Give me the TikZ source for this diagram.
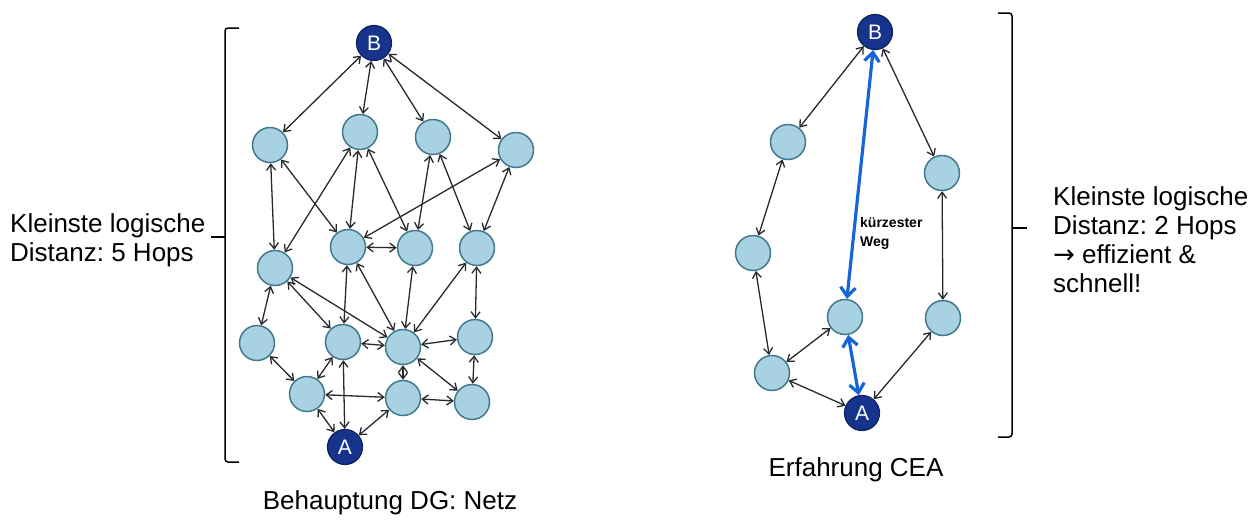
\documentclass[tikz,border=0pt]{standalone}
\usepackage{fontspec}
\setmainfont{Liberation Sans}
\newfontfamily\symfont{DejaVu Sans}
\usetikzlibrary{arrows.meta}
\frenchspacing
\definecolor{nodefill}{RGB}{168,210,225}
\definecolor{nodeline}{RGB}{66,120,142}
\definecolor{endfill}{RGB}{22,52,140}
\definecolor{endline}{RGB}{14,34,96}
\definecolor{edgecol}{RGB}{38,42,46}
\definecolor{pathblue}{RGB}{22,100,215}
\begin{document}
\begin{tikzpicture}[x=1pt,y=-1pt,
  hub/.style={circle, draw=nodeline, fill=nodefill, line width=1.5pt, minimum size=35pt, inner sep=0pt},
  endpt/.style={circle, draw=endline, fill=endfill, line width=1.2pt, minimum size=35pt, inner sep=0pt, text=white, font=\fontsize{21}{21}\selectfont},
  link/.style={draw=edgecol, line width=1.3pt, {Straight Barb[length=6pt,width=9pt]}-{Straight Barb[length=6pt,width=9pt]}},
  fast/.style={draw=pathblue, line width=3.2pt, {Straight Barb[length=9pt,width=15pt]}-{Straight Barb[length=9pt,width=15pt]}},
  bracket/.style={draw=black, line width=1.5pt, rounded corners=3pt},
  note/.style={font=\fontsize{26}{29}\selectfont, align=left, inner sep=0pt}
]
\useasboundingbox (0,0) rectangle (1259,528);

% ---------- left network ----------
\node[endpt] (LB) at (374,43) {B};
\node[hub] (L1) at (270,145) {};
\node[hub] (L2) at (360,132) {};
\node[hub] (L3) at (433,137) {};
\node[hub] (L4) at (516,150) {};
\node[hub] (L5) at (275,268) {};
\node[hub] (L6) at (348,247) {};
\node[hub] (L7) at (415,248) {};
\node[hub] (L8) at (477,248) {};
\node[hub] (L9) at (257,343) {};
\node[hub] (L10) at (343,342) {};
\node[hub] (L11) at (403,347) {};
\node[hub] (L12) at (475,337) {};
\node[hub] (L13) at (307,394) {};
\node[hub] (L14) at (403,398) {};
\node[hub] (L15) at (472,402) {};
\node[endpt] (LA) at (345,447) {A};

\foreach \a/\b in {LB/L1, LB/L2, LB/L3, LB/L4,
  L1/L5, L1/L6, L2/L5, L2/L6, L2/L7, L3/L7, L3/L8, L4/L6, L4/L8,
  L6/L7, L5/L9, L5/L10, L5/L11, L6/L10, L6/L11, L7/L11, L8/L11, L8/L12,
  L10/L11, L11/L12, L9/L13, L10/L13, L10/LA, L11/L14, L11/L15, L12/L15,
  L13/L14, L13/LA, L14/LA, L14/L15}
  \draw[link] (\a) -- (\b);

% ---------- right network ----------
\node[endpt] (RB) at (875,32) {B};
\node[hub] (R1) at (788,142) {};
\node[hub] (R2) at (942,173) {};
\node[hub] (R3) at (753,253) {};
\node[hub] (R4) at (772,373) {};
\node[hub] (R5) at (845,317) {};
\node[hub] (R6) at (943,318) {};
\node[endpt] (RA) at (862,413) {A};

\foreach \a/\b in {RB/R1, RB/R2, R1/R3, R3/R4, R2/R6, R4/R5, R4/RA, R6/RA}
  \draw[link] (\a) -- (\b);
\draw[fast] (RB) -- (R5);
\draw[fast] (R5) -- (RA);

\node[font=\bfseries\fontsize{14}{19}\selectfont, align=left, anchor=north west, inner sep=0pt] (waynote) at (860,217) {kürzester\\Weg};

% ---------- brackets ----------
\draw[bracket] (239,28) -- (225,28) -- (225,462) -- (239,462);
\draw[bracket] (225,237) -- (211,237);
\draw[bracket] (998,13) -- (1012,13) -- (1012,437) -- (998,437);
\draw[bracket] (1012,228) -- (1027,228);

% ---------- texts ----------
\node[note, anchor=north west] (leftnote) at (10,213) {Kleinste logische\\Distanz: 5 Hops};
\node[note, anchor=north west] (rightnote) at (1053,186) {Kleinste logische\\Distanz: 2 Hops\\{\symfont →} effizient \&\\schnell!};
\node[note, anchor=center] (capleft) at (390,503) {Behauptung DG: Netz};
\node[note, anchor=center] (capright) at (856,470) {Erfahrung CEA};
\end{tikzpicture}
\end{document}
